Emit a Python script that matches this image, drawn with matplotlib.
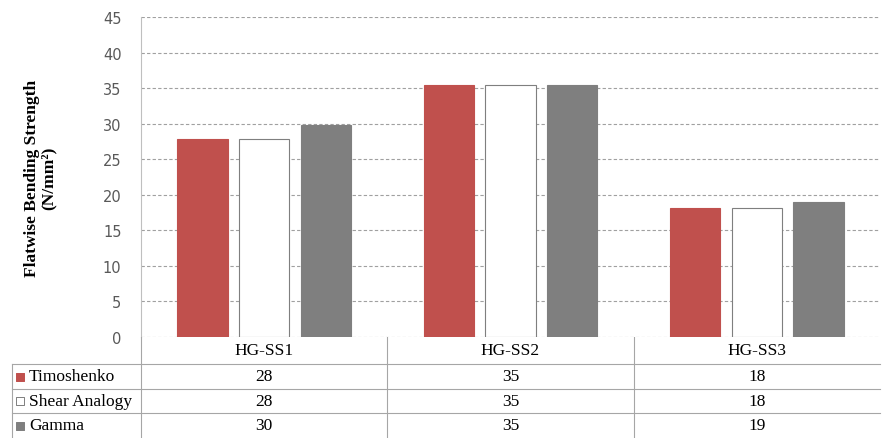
import numpy as np
import matplotlib
matplotlib.use("Agg")
import matplotlib.pyplot as plt

# data
groups = ["HG-SS1", "HG-SS2", "HG-SS3"]
series_names = ["Timoshenko", "Shear Analogy", "Gamma"]
timoshenko = [27.8, 35.5, 18.1]
shear_analogy = [27.8, 35.4, 18.1]
gamma = [29.8, 35.5, 19.0]
table_labels = [["28", "35", "18"], ["28", "35", "18"], ["30", "35", "19"]]
yticks = [0, 5, 10, 15, 20, 25, 30, 35, 40, 45]

colors = ["#C0504D", "#FFFFFF", "#7F7F7F"]
edges = ["#C0504D", "#7F7F7F", "#7F7F7F"]
W, H = 882, 439

fig = plt.figure(figsize=(W / 100, H / 100), dpi=100)

# main bar axes (pixel box: x 141..880, y 18..338)
x0, x1, ytop, ybot = 141, 880, 18, 338
ax = fig.add_axes([x0 / W, (H - ybot) / H, (x1 - x0) / W, (ybot - ytop) / H])

x = np.arange(len(groups))
offs = [-0.25, 0.0, 0.25]
bw = 0.205
for vals, off, c, ec in zip([timoshenko, shear_analogy, gamma], offs, colors, edges):
    ax.bar(x + off, vals, bw, color=c, edgecolor=ec, linewidth=0.8, zorder=3)

ax.set_xlim(-0.5, 2.5)
ax.set_ylim(0, 45)
ax.set_yticks(yticks)
ax.set_yticklabels([str(v) for v in yticks], fontsize=10.5, color="#595959",
                   family="DejaVu Sans")
ax.set_xticks([])
ax.tick_params(axis="y", length=0, pad=14)
ax.yaxis.grid(True, linestyle=(0, (3, 2)), color="#A0A0A0", linewidth=0.8)
for s in ["top", "right", "bottom"]:
    ax.spines[s].set_visible(False)
ax.spines["left"].set_color("#BFBFBF")
ax.set_ylabel("Flatwise Bending Strength\n(N/mm²)", family="Liberation Serif",
              fontweight="bold", fontsize=12.5, labelpad=33, linespacing=1.05)

# data table below the plot, drawn in pixel coordinates
tab = fig.add_axes([0, 0, 1, (H - ybot) / H])
tab.set_xlim(0, W)
tab.set_ylim(H, ybot)
tab.axis("off")
lc = "#A6A6A6"
row_y = [338, 365, 390, 414, 439]
# horizontal lines
for yy in row_y[1:4]:
    tab.plot([12, x1], [yy, yy], color=lc, lw=0.8)
# vertical lines
col_w = (x1 - x0) / 3
tab.plot([x0, x0], [338, 439], color=lc, lw=0.8)
for k in range(1, 3):
    xv = x0 + k * col_w
    tab.plot([xv, xv], [338, 439], color=lc, lw=0.8)
tab.plot([12, 12], [365, 439], color=lc, lw=0.8)

fs = 12.5
for k, g in enumerate(groups):
    tab.text(x0 + (k + 0.5) * col_w, (row_y[0] + row_y[1]) / 2, g,
             ha="center", va="center", family="Liberation Serif", fontsize=fs)
for r, name in enumerate(series_names):
    yc = (row_y[r + 1] + row_y[r + 2]) / 2
    tab.scatter([20], [yc], marker="s", s=40, color=colors[r],
                edgecolor=edges[r], linewidth=0.7)
    tab.text(29, yc, name, ha="left", va="center",
             family="Liberation Serif", fontsize=fs)
    for k in range(3):
        tab.text(x0 + (k + 0.5) * col_w, yc, table_labels[r][k], ha="center",
                 va="center", family="Liberation Serif", fontsize=fs)

fig.savefig("out.png", dpi=100)
